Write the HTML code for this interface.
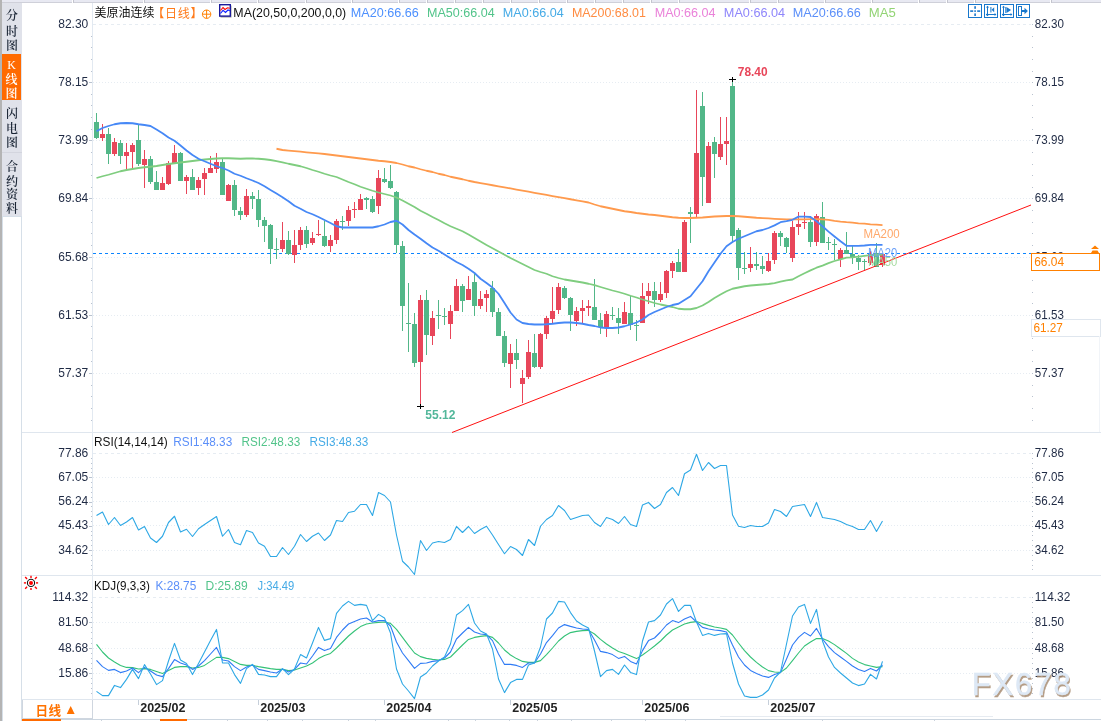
<!DOCTYPE html>
<html lang="zh-CN">
<head>
<meta charset="utf-8">
<title>美原油连续 日线</title>
<style>
html,body{margin:0;padding:0;background:#fff;}
body{width:1101px;height:721px;position:relative;overflow:hidden;font-family:"Liberation Sans","Noto Sans CJK SC",sans-serif;}
#chart{position:absolute;left:0;top:0;}
#chart text{font-family:"Liberation Sans","Noto Sans CJK SC",sans-serif;}
.side{position:absolute;left:0;top:0;width:22px;height:721px;}
.side .edge{position:absolute;left:0;top:0;width:2px;height:721px;background:#b4b4b4;}
.side .rail{position:absolute;left:2px;top:216px;width:18px;height:505px;border:1px solid #d6dfe8;border-bottom:none;background:#fff;}
.tabs{position:absolute;left:2px;top:3px;width:20px;height:213px;background:#e0e2ea;}
.ch{position:absolute;left:0;width:20px;height:16px;color:#1b2636;font-family:"Liberation Serif","Noto Serif CJK SC","Noto Sans CJK SC",serif;font-size:12px;font-weight:600;line-height:16px;text-align:center;}
.ch.w{color:#fff;width:19px;}
.on{position:absolute;left:0;top:51px;width:19px;height:46px;background:#ff6a00;}
.sep{position:absolute;left:0;width:20px;height:1px;background:#d3d5de;}
.hd{position:absolute;top:4px;height:17px;line-height:17px;font-size:12.5px;white-space:nowrap;}
.period{position:absolute;left:22px;top:700px;width:69px;height:18px;border:1px solid #cfd6df;border-top:none;background:#fff;color:#ff7200;font-weight:bold;}
.period b{position:absolute;left:12.6px;top:3px;font-size:12.6px;line-height:17px;font-weight:bold;letter-spacing:0.3px;}
.period i{position:absolute;left:41px;top:1px;font-size:13.5px;line-height:17px;font-style:normal;font-weight:normal;}
</style>
</head>
<body>
<svg id="chart" width="1101" height="721" viewBox="0 0 1101 721">
<g shape-rendering="crispEdges">
<rect x="22" y="432" width="1079" height="1" fill="#dfe6ee"/>
<rect x="22" y="575" width="1079" height="1" fill="#dfe6ee"/>
<rect x="22" y="699" width="1079" height="1" fill="#dfe6ee"/>
<rect x="92" y="3" width="1" height="696" fill="#e2e9f1"/>
<rect x="22" y="719" width="1079" height="1" fill="#ccd6e0"/>
</g>
<g stroke="#e6ecf2" stroke-width="1" fill="none">
<line x1="93" y1="24.5" x2="1031" y2="24.5" stroke-dasharray="3 3"/>
<line x1="93" y1="82.5" x2="1031" y2="82.5" stroke-dasharray="1 2"/>
<line x1="93" y1="140.5" x2="1031" y2="140.5" stroke-dasharray="1 2"/>
<line x1="93" y1="198.5" x2="1031" y2="198.5" stroke-dasharray="1 2"/>
<line x1="93" y1="257.5" x2="1031" y2="257.5" stroke-dasharray="1 2"/>
<line x1="93" y1="315.5" x2="1031" y2="315.5" stroke-dasharray="1 2"/>
<line x1="93" y1="373.5" x2="1031" y2="373.5" stroke-dasharray="1 2"/>
<line x1="93" y1="453.5" x2="1031" y2="453.5" stroke-dasharray="3 3"/>
<line x1="93" y1="477.5" x2="1031" y2="477.5" stroke-dasharray="1 2"/>
<line x1="93" y1="501.5" x2="1031" y2="501.5" stroke-dasharray="1 2"/>
<line x1="93" y1="525.5" x2="1031" y2="525.5" stroke-dasharray="1 2"/>
<line x1="93" y1="550.5" x2="1031" y2="550.5" stroke-dasharray="1 2"/>
<line x1="93" y1="597.5" x2="1031" y2="597.5" stroke-dasharray="3 3"/>
<line x1="93" y1="622.5" x2="1031" y2="622.5" stroke-dasharray="1 2"/>
<line x1="93" y1="648.5" x2="1031" y2="648.5" stroke-dasharray="1 2"/>
<line x1="93" y1="673.5" x2="1031" y2="673.5" stroke-dasharray="1 2"/>
</g>
<g fill="#b9c2cf" shape-rendering="crispEdges">
<rect x="1032" y="24" width="1" height="1"/>
<rect x="91" y="36" width="1" height="1"/>
<rect x="1032" y="36" width="1" height="1"/>
<rect x="91" y="47" width="1" height="1"/>
<rect x="1032" y="47" width="1" height="1"/>
<rect x="91" y="59" width="1" height="1"/>
<rect x="1032" y="59" width="1" height="1"/>
<rect x="91" y="71" width="1" height="1"/>
<rect x="1032" y="71" width="1" height="1"/>
<rect x="89" y="82" width="3" height="1"/>
<rect x="1032" y="82" width="1" height="1"/>
<rect x="91" y="94" width="1" height="1"/>
<rect x="1032" y="94" width="1" height="1"/>
<rect x="91" y="105" width="1" height="1"/>
<rect x="1032" y="105" width="1" height="1"/>
<rect x="91" y="117" width="1" height="1"/>
<rect x="1032" y="117" width="1" height="1"/>
<rect x="91" y="129" width="1" height="1"/>
<rect x="1032" y="129" width="1" height="1"/>
<rect x="89" y="140" width="3" height="1"/>
<rect x="1032" y="140" width="1" height="1"/>
<rect x="91" y="152" width="1" height="1"/>
<rect x="1032" y="152" width="1" height="1"/>
<rect x="91" y="164" width="1" height="1"/>
<rect x="1032" y="164" width="1" height="1"/>
<rect x="91" y="175" width="1" height="1"/>
<rect x="1032" y="175" width="1" height="1"/>
<rect x="91" y="187" width="1" height="1"/>
<rect x="1032" y="187" width="1" height="1"/>
<rect x="89" y="198" width="3" height="1"/>
<rect x="1032" y="198" width="1" height="1"/>
<rect x="91" y="210" width="1" height="1"/>
<rect x="1032" y="210" width="1" height="1"/>
<rect x="91" y="222" width="1" height="1"/>
<rect x="1032" y="222" width="1" height="1"/>
<rect x="91" y="233" width="1" height="1"/>
<rect x="1032" y="233" width="1" height="1"/>
<rect x="91" y="245" width="1" height="1"/>
<rect x="1032" y="245" width="1" height="1"/>
<rect x="89" y="257" width="3" height="1"/>
<rect x="1032" y="257" width="1" height="1"/>
<rect x="91" y="268" width="1" height="1"/>
<rect x="1032" y="268" width="1" height="1"/>
<rect x="91" y="280" width="1" height="1"/>
<rect x="1032" y="280" width="1" height="1"/>
<rect x="91" y="292" width="1" height="1"/>
<rect x="1032" y="292" width="1" height="1"/>
<rect x="91" y="303" width="1" height="1"/>
<rect x="1032" y="303" width="1" height="1"/>
<rect x="89" y="315" width="3" height="1"/>
<rect x="1032" y="315" width="1" height="1"/>
<rect x="91" y="326" width="1" height="1"/>
<rect x="1032" y="326" width="1" height="1"/>
<rect x="91" y="338" width="1" height="1"/>
<rect x="1032" y="338" width="1" height="1"/>
<rect x="91" y="350" width="1" height="1"/>
<rect x="1032" y="350" width="1" height="1"/>
<rect x="91" y="361" width="1" height="1"/>
<rect x="1032" y="361" width="1" height="1"/>
<rect x="89" y="373" width="3" height="1"/>
<rect x="1032" y="373" width="1" height="1"/>
<rect x="91" y="385" width="1" height="1"/>
<rect x="1032" y="385" width="1" height="1"/>
<rect x="91" y="396" width="1" height="1"/>
<rect x="1032" y="396" width="1" height="1"/>
<rect x="91" y="408" width="1" height="1"/>
<rect x="1032" y="408" width="1" height="1"/>
<rect x="91" y="420" width="1" height="1"/>
<rect x="1032" y="420" width="1" height="1"/>
<rect x="1032" y="453" width="1" height="1"/>
<rect x="91" y="458" width="1" height="1"/>
<rect x="1032" y="458" width="1" height="1"/>
<rect x="91" y="463" width="1" height="1"/>
<rect x="1032" y="463" width="1" height="1"/>
<rect x="91" y="468" width="1" height="1"/>
<rect x="1032" y="468" width="1" height="1"/>
<rect x="91" y="472" width="1" height="1"/>
<rect x="1032" y="472" width="1" height="1"/>
<rect x="89" y="477" width="3" height="1"/>
<rect x="1032" y="477" width="1" height="1"/>
<rect x="91" y="482" width="1" height="1"/>
<rect x="1032" y="482" width="1" height="1"/>
<rect x="91" y="487" width="1" height="1"/>
<rect x="1032" y="487" width="1" height="1"/>
<rect x="91" y="492" width="1" height="1"/>
<rect x="1032" y="492" width="1" height="1"/>
<rect x="91" y="497" width="1" height="1"/>
<rect x="1032" y="497" width="1" height="1"/>
<rect x="89" y="502" width="3" height="1"/>
<rect x="1032" y="502" width="1" height="1"/>
<rect x="91" y="506" width="1" height="1"/>
<rect x="1032" y="506" width="1" height="1"/>
<rect x="91" y="511" width="1" height="1"/>
<rect x="1032" y="511" width="1" height="1"/>
<rect x="91" y="516" width="1" height="1"/>
<rect x="1032" y="516" width="1" height="1"/>
<rect x="91" y="521" width="1" height="1"/>
<rect x="1032" y="521" width="1" height="1"/>
<rect x="89" y="526" width="3" height="1"/>
<rect x="1032" y="526" width="1" height="1"/>
<rect x="91" y="531" width="1" height="1"/>
<rect x="1032" y="531" width="1" height="1"/>
<rect x="91" y="535" width="1" height="1"/>
<rect x="1032" y="535" width="1" height="1"/>
<rect x="91" y="540" width="1" height="1"/>
<rect x="1032" y="540" width="1" height="1"/>
<rect x="91" y="545" width="1" height="1"/>
<rect x="1032" y="545" width="1" height="1"/>
<rect x="89" y="550" width="3" height="1"/>
<rect x="1032" y="550" width="1" height="1"/>
<rect x="91" y="555" width="1" height="1"/>
<rect x="1032" y="555" width="1" height="1"/>
<rect x="91" y="560" width="1" height="1"/>
<rect x="1032" y="560" width="1" height="1"/>
<rect x="91" y="565" width="1" height="1"/>
<rect x="1032" y="565" width="1" height="1"/>
<rect x="91" y="569" width="1" height="1"/>
<rect x="1032" y="569" width="1" height="1"/>
<rect x="1032" y="597" width="1" height="1"/>
<rect x="91" y="602" width="1" height="1"/>
<rect x="1032" y="602" width="1" height="1"/>
<rect x="91" y="607" width="1" height="1"/>
<rect x="1032" y="607" width="1" height="1"/>
<rect x="91" y="612" width="1" height="1"/>
<rect x="1032" y="612" width="1" height="1"/>
<rect x="91" y="617" width="1" height="1"/>
<rect x="1032" y="617" width="1" height="1"/>
<rect x="89" y="622" width="3" height="1"/>
<rect x="1032" y="622" width="1" height="1"/>
<rect x="91" y="627" width="1" height="1"/>
<rect x="1032" y="627" width="1" height="1"/>
<rect x="91" y="632" width="1" height="1"/>
<rect x="1032" y="632" width="1" height="1"/>
<rect x="91" y="638" width="1" height="1"/>
<rect x="1032" y="638" width="1" height="1"/>
<rect x="91" y="643" width="1" height="1"/>
<rect x="1032" y="643" width="1" height="1"/>
<rect x="89" y="648" width="3" height="1"/>
<rect x="1032" y="648" width="1" height="1"/>
<rect x="91" y="653" width="1" height="1"/>
<rect x="1032" y="653" width="1" height="1"/>
<rect x="91" y="658" width="1" height="1"/>
<rect x="1032" y="658" width="1" height="1"/>
<rect x="91" y="663" width="1" height="1"/>
<rect x="1032" y="663" width="1" height="1"/>
<rect x="91" y="668" width="1" height="1"/>
<rect x="1032" y="668" width="1" height="1"/>
<rect x="89" y="673" width="3" height="1"/>
<rect x="1032" y="673" width="1" height="1"/>
<rect x="91" y="678" width="1" height="1"/>
<rect x="1032" y="678" width="1" height="1"/>
<rect x="91" y="683" width="1" height="1"/>
<rect x="1032" y="683" width="1" height="1"/>
<rect x="91" y="688" width="1" height="1"/>
<rect x="1032" y="688" width="1" height="1"/>
<rect x="91" y="693" width="1" height="1"/>
<rect x="1032" y="693" width="1" height="1"/>
</g>
<line x1="93" y1="253.5" x2="1031" y2="253.5" stroke="#0a84ff" stroke-width="1" stroke-dasharray="3 3" shape-rendering="crispEdges"/>
<g shape-rendering="crispEdges">
<rect x="96" y="113" width="1" height="26" fill="#52b788"/>
<rect x="94" y="122" width="5" height="16" fill="#52b788"/>
<rect x="102" y="124" width="1" height="17" fill="#e8465a"/>
<rect x="100" y="134" width="5" height="4" fill="#e8465a"/>
<rect x="108" y="128" width="1" height="36" fill="#52b788"/>
<rect x="106" y="134" width="5" height="20" fill="#52b788"/>
<rect x="114" y="138" width="1" height="18" fill="#e8465a"/>
<rect x="112" y="142" width="5" height="12" fill="#e8465a"/>
<rect x="120" y="140" width="1" height="24" fill="#52b788"/>
<rect x="118" y="143" width="5" height="13" fill="#52b788"/>
<rect x="126" y="143" width="1" height="26" fill="#e8465a"/>
<rect x="124" y="152" width="5" height="4" fill="#e8465a"/>
<rect x="132" y="143" width="1" height="25" fill="#e8465a"/>
<rect x="130" y="145" width="5" height="7" fill="#e8465a"/>
<rect x="138" y="125" width="1" height="41" fill="#52b788"/>
<rect x="136" y="140" width="5" height="24" fill="#52b788"/>
<rect x="144" y="150" width="1" height="38" fill="#e8465a"/>
<rect x="142" y="159" width="5" height="6" fill="#e8465a"/>
<rect x="150" y="156" width="1" height="28" fill="#52b788"/>
<rect x="148" y="159" width="5" height="23" fill="#52b788"/>
<rect x="156" y="171" width="1" height="19" fill="#52b788"/>
<rect x="154" y="182" width="5" height="8" fill="#52b788"/>
<rect x="162" y="177" width="1" height="13" fill="#e8465a"/>
<rect x="160" y="183" width="5" height="7" fill="#e8465a"/>
<rect x="168" y="161" width="1" height="24" fill="#e8465a"/>
<rect x="166" y="163" width="5" height="21" fill="#e8465a"/>
<rect x="174" y="145" width="1" height="18" fill="#e8465a"/>
<rect x="172" y="153" width="5" height="10" fill="#e8465a"/>
<rect x="180" y="152" width="1" height="29" fill="#52b788"/>
<rect x="178" y="153" width="5" height="28" fill="#52b788"/>
<rect x="186" y="175" width="1" height="19" fill="#e8465a"/>
<rect x="184" y="177" width="5" height="4" fill="#e8465a"/>
<rect x="192" y="169" width="1" height="21" fill="#52b788"/>
<rect x="190" y="177" width="5" height="13" fill="#52b788"/>
<rect x="198" y="177" width="1" height="18" fill="#e8465a"/>
<rect x="196" y="180" width="5" height="8" fill="#e8465a"/>
<rect x="204" y="168" width="1" height="27" fill="#e8465a"/>
<rect x="202" y="173" width="5" height="6" fill="#e8465a"/>
<rect x="210" y="156" width="1" height="17" fill="#e8465a"/>
<rect x="208" y="168" width="5" height="5" fill="#e8465a"/>
<rect x="216" y="153" width="1" height="20" fill="#e8465a"/>
<rect x="214" y="162" width="5" height="7" fill="#e8465a"/>
<rect x="222" y="159" width="1" height="36" fill="#52b788"/>
<rect x="220" y="162" width="5" height="33" fill="#52b788"/>
<rect x="228" y="184" width="1" height="17" fill="#e8465a"/>
<rect x="226" y="185" width="5" height="16" fill="#e8465a"/>
<rect x="234" y="180" width="1" height="36" fill="#52b788"/>
<rect x="232" y="185" width="5" height="25" fill="#52b788"/>
<rect x="240" y="207" width="1" height="13" fill="#52b788"/>
<rect x="238" y="211" width="5" height="4" fill="#52b788"/>
<rect x="246" y="189" width="1" height="28" fill="#e8465a"/>
<rect x="244" y="196" width="5" height="19" fill="#e8465a"/>
<rect x="252" y="192" width="1" height="17" fill="#52b788"/>
<rect x="250" y="196" width="5" height="3" fill="#52b788"/>
<rect x="258" y="190" width="1" height="37" fill="#52b788"/>
<rect x="256" y="199" width="5" height="21" fill="#52b788"/>
<rect x="264" y="217" width="1" height="25" fill="#52b788"/>
<rect x="262" y="220" width="5" height="6" fill="#52b788"/>
<rect x="270" y="224" width="1" height="40" fill="#52b788"/>
<rect x="268" y="225" width="5" height="24" fill="#52b788"/>
<rect x="276" y="238" width="1" height="21" fill="#52b788"/>
<rect x="274" y="249" width="5" height="1" fill="#52b788"/>
<rect x="282" y="222" width="1" height="30" fill="#e8465a"/>
<rect x="280" y="240" width="5" height="9" fill="#e8465a"/>
<rect x="288" y="231" width="1" height="24" fill="#52b788"/>
<rect x="286" y="240" width="5" height="14" fill="#52b788"/>
<rect x="294" y="230" width="1" height="33" fill="#e8465a"/>
<rect x="292" y="245" width="5" height="10" fill="#e8465a"/>
<rect x="300" y="227" width="1" height="23" fill="#e8465a"/>
<rect x="298" y="230" width="5" height="15" fill="#e8465a"/>
<rect x="306" y="226" width="1" height="22" fill="#52b788"/>
<rect x="304" y="230" width="5" height="14" fill="#52b788"/>
<rect x="312" y="232" width="1" height="13" fill="#e8465a"/>
<rect x="310" y="238" width="5" height="5" fill="#e8465a"/>
<rect x="318" y="220" width="1" height="16" fill="#e8465a"/>
<rect x="316" y="234" width="5" height="1" fill="#e8465a"/>
<rect x="324" y="221" width="1" height="26" fill="#52b788"/>
<rect x="322" y="236" width="5" height="10" fill="#52b788"/>
<rect x="330" y="235" width="1" height="17" fill="#e8465a"/>
<rect x="328" y="240" width="5" height="6" fill="#e8465a"/>
<rect x="336" y="219" width="1" height="25" fill="#e8465a"/>
<rect x="334" y="221" width="5" height="19" fill="#e8465a"/>
<rect x="342" y="216" width="1" height="14" fill="#52b788"/>
<rect x="340" y="221" width="5" height="1" fill="#52b788"/>
<rect x="348" y="206" width="1" height="20" fill="#e8465a"/>
<rect x="346" y="210" width="5" height="11" fill="#e8465a"/>
<rect x="354" y="202" width="1" height="16" fill="#e8465a"/>
<rect x="352" y="209" width="5" height="1" fill="#e8465a"/>
<rect x="360" y="194" width="1" height="16" fill="#e8465a"/>
<rect x="358" y="199" width="5" height="11" fill="#e8465a"/>
<rect x="366" y="197" width="1" height="12" fill="#52b788"/>
<rect x="364" y="198" width="5" height="2" fill="#52b788"/>
<rect x="372" y="196" width="1" height="17" fill="#52b788"/>
<rect x="370" y="199" width="5" height="13" fill="#52b788"/>
<rect x="378" y="170" width="1" height="44" fill="#e8465a"/>
<rect x="376" y="178" width="5" height="28" fill="#e8465a"/>
<rect x="384" y="168" width="1" height="15" fill="#52b788"/>
<rect x="382" y="179" width="5" height="3" fill="#52b788"/>
<rect x="390" y="165" width="1" height="24" fill="#52b788"/>
<rect x="388" y="181" width="5" height="7" fill="#52b788"/>
<rect x="396" y="191" width="1" height="62" fill="#52b788"/>
<rect x="394" y="192" width="5" height="53" fill="#52b788"/>
<rect x="402" y="241" width="1" height="90" fill="#52b788"/>
<rect x="400" y="246" width="5" height="60" fill="#52b788"/>
<rect x="408" y="283" width="1" height="69" fill="#52b788"/>
<rect x="406" y="323" width="5" height="1" fill="#52b788"/>
<rect x="414" y="313" width="1" height="54" fill="#52b788"/>
<rect x="412" y="324" width="5" height="39" fill="#52b788"/>
<rect x="420" y="295" width="1" height="111" fill="#e8465a"/>
<rect x="418" y="300" width="5" height="62" fill="#e8465a"/>
<rect x="426" y="290" width="1" height="65" fill="#52b788"/>
<rect x="424" y="300" width="5" height="35" fill="#52b788"/>
<rect x="432" y="311" width="1" height="34" fill="#e8465a"/>
<rect x="430" y="318" width="5" height="18" fill="#e8465a"/>
<rect x="438" y="300" width="1" height="29" fill="#52b788"/>
<rect x="436" y="315" width="5" height="1" fill="#52b788"/>
<rect x="444" y="308" width="1" height="17" fill="#52b788"/>
<rect x="442" y="316" width="5" height="1" fill="#52b788"/>
<rect x="450" y="305" width="1" height="34" fill="#e8465a"/>
<rect x="448" y="311" width="5" height="13" fill="#e8465a"/>
<rect x="456" y="279" width="1" height="32" fill="#e8465a"/>
<rect x="454" y="286" width="5" height="25" fill="#e8465a"/>
<rect x="462" y="284" width="1" height="28" fill="#52b788"/>
<rect x="460" y="286" width="5" height="15" fill="#52b788"/>
<rect x="468" y="276" width="1" height="24" fill="#e8465a"/>
<rect x="466" y="289" width="5" height="11" fill="#e8465a"/>
<rect x="474" y="274" width="1" height="42" fill="#52b788"/>
<rect x="472" y="282" width="5" height="24" fill="#52b788"/>
<rect x="480" y="291" width="1" height="18" fill="#e8465a"/>
<rect x="478" y="299" width="5" height="7" fill="#e8465a"/>
<rect x="486" y="290" width="1" height="22" fill="#e8465a"/>
<rect x="484" y="294" width="5" height="4" fill="#e8465a"/>
<rect x="492" y="281" width="1" height="36" fill="#52b788"/>
<rect x="490" y="288" width="5" height="24" fill="#52b788"/>
<rect x="498" y="308" width="1" height="28" fill="#52b788"/>
<rect x="496" y="312" width="5" height="24" fill="#52b788"/>
<rect x="504" y="331" width="1" height="36" fill="#52b788"/>
<rect x="502" y="336" width="5" height="27" fill="#52b788"/>
<rect x="510" y="344" width="1" height="44" fill="#e8465a"/>
<rect x="508" y="353" width="5" height="11" fill="#e8465a"/>
<rect x="516" y="339" width="1" height="30" fill="#52b788"/>
<rect x="514" y="353" width="5" height="7" fill="#52b788"/>
<rect x="522" y="370" width="1" height="33" fill="#e8465a"/>
<rect x="520" y="378" width="5" height="6" fill="#e8465a"/>
<rect x="528" y="340" width="1" height="39" fill="#e8465a"/>
<rect x="526" y="352" width="5" height="25" fill="#e8465a"/>
<rect x="534" y="334" width="1" height="34" fill="#52b788"/>
<rect x="532" y="353" width="5" height="14" fill="#52b788"/>
<rect x="540" y="333" width="1" height="36" fill="#e8465a"/>
<rect x="538" y="334" width="5" height="33" fill="#e8465a"/>
<rect x="546" y="316" width="1" height="23" fill="#e8465a"/>
<rect x="544" y="318" width="5" height="16" fill="#e8465a"/>
<rect x="552" y="287" width="1" height="37" fill="#e8465a"/>
<rect x="550" y="311" width="5" height="8" fill="#e8465a"/>
<rect x="558" y="283" width="1" height="31" fill="#e8465a"/>
<rect x="556" y="287" width="5" height="23" fill="#e8465a"/>
<rect x="564" y="286" width="1" height="13" fill="#52b788"/>
<rect x="562" y="288" width="5" height="10" fill="#52b788"/>
<rect x="570" y="297" width="1" height="34" fill="#52b788"/>
<rect x="568" y="298" width="5" height="17" fill="#52b788"/>
<rect x="576" y="307" width="1" height="19" fill="#e8465a"/>
<rect x="574" y="311" width="5" height="10" fill="#e8465a"/>
<rect x="582" y="300" width="1" height="23" fill="#e8465a"/>
<rect x="580" y="308" width="5" height="3" fill="#e8465a"/>
<rect x="588" y="300" width="1" height="16" fill="#e8465a"/>
<rect x="586" y="306" width="5" height="2" fill="#e8465a"/>
<rect x="594" y="279" width="1" height="41" fill="#52b788"/>
<rect x="592" y="307" width="5" height="13" fill="#52b788"/>
<rect x="600" y="313" width="1" height="21" fill="#52b788"/>
<rect x="598" y="320" width="5" height="7" fill="#52b788"/>
<rect x="606" y="311" width="1" height="26" fill="#e8465a"/>
<rect x="604" y="314" width="5" height="13" fill="#e8465a"/>
<rect x="612" y="307" width="1" height="13" fill="#52b788"/>
<rect x="610" y="315" width="5" height="1" fill="#52b788"/>
<rect x="618" y="308" width="1" height="26" fill="#52b788"/>
<rect x="616" y="318" width="5" height="5" fill="#52b788"/>
<rect x="624" y="302" width="1" height="22" fill="#e8465a"/>
<rect x="622" y="312" width="5" height="12" fill="#e8465a"/>
<rect x="630" y="296" width="1" height="34" fill="#52b788"/>
<rect x="628" y="313" width="5" height="12" fill="#52b788"/>
<rect x="636" y="320" width="1" height="21" fill="#52b788"/>
<rect x="634" y="325" width="5" height="1" fill="#52b788"/>
<rect x="642" y="283" width="1" height="40" fill="#e8465a"/>
<rect x="640" y="296" width="5" height="27" fill="#e8465a"/>
<rect x="648" y="283" width="1" height="21" fill="#e8465a"/>
<rect x="646" y="291" width="5" height="5" fill="#e8465a"/>
<rect x="654" y="282" width="1" height="25" fill="#52b788"/>
<rect x="652" y="291" width="5" height="9" fill="#52b788"/>
<rect x="660" y="282" width="1" height="20" fill="#e8465a"/>
<rect x="658" y="294" width="5" height="6" fill="#e8465a"/>
<rect x="666" y="270" width="1" height="28" fill="#e8465a"/>
<rect x="664" y="271" width="5" height="22" fill="#e8465a"/>
<rect x="672" y="261" width="1" height="17" fill="#e8465a"/>
<rect x="670" y="263" width="5" height="8" fill="#e8465a"/>
<rect x="678" y="249" width="1" height="23" fill="#52b788"/>
<rect x="676" y="262" width="5" height="10" fill="#52b788"/>
<rect x="684" y="220" width="1" height="52" fill="#e8465a"/>
<rect x="682" y="222" width="5" height="50" fill="#e8465a"/>
<rect x="690" y="207" width="1" height="36" fill="#52b788"/>
<rect x="688" y="212" width="5" height="2" fill="#52b788"/>
<rect x="696" y="90" width="1" height="127" fill="#e8465a"/>
<rect x="694" y="153" width="5" height="61" fill="#e8465a"/>
<rect x="702" y="92" width="1" height="114" fill="#52b788"/>
<rect x="700" y="106" width="5" height="71" fill="#52b788"/>
<rect x="708" y="142" width="1" height="61" fill="#e8465a"/>
<rect x="706" y="146" width="5" height="57" fill="#e8465a"/>
<rect x="714" y="137" width="1" height="41" fill="#52b788"/>
<rect x="712" y="142" width="5" height="12" fill="#52b788"/>
<rect x="720" y="117" width="1" height="43" fill="#e8465a"/>
<rect x="718" y="144" width="5" height="13" fill="#e8465a"/>
<rect x="726" y="117" width="1" height="48" fill="#e8465a"/>
<rect x="724" y="141" width="5" height="3" fill="#e8465a"/>
<rect x="732" y="80" width="1" height="162" fill="#52b788"/>
<rect x="730" y="86" width="5" height="150" fill="#52b788"/>
<rect x="738" y="228" width="1" height="52" fill="#52b788"/>
<rect x="736" y="230" width="5" height="38" fill="#52b788"/>
<rect x="744" y="252" width="1" height="22" fill="#52b788"/>
<rect x="742" y="268" width="5" height="1" fill="#52b788"/>
<rect x="750" y="247" width="1" height="25" fill="#e8465a"/>
<rect x="748" y="264" width="5" height="4" fill="#e8465a"/>
<rect x="756" y="252" width="1" height="18" fill="#52b788"/>
<rect x="754" y="264" width="5" height="2" fill="#52b788"/>
<rect x="762" y="256" width="1" height="18" fill="#52b788"/>
<rect x="760" y="266" width="5" height="3" fill="#52b788"/>
<rect x="768" y="253" width="1" height="19" fill="#e8465a"/>
<rect x="766" y="261" width="5" height="10" fill="#e8465a"/>
<rect x="774" y="231" width="1" height="33" fill="#e8465a"/>
<rect x="772" y="233" width="5" height="27" fill="#e8465a"/>
<rect x="780" y="231" width="1" height="15" fill="#52b788"/>
<rect x="778" y="233" width="5" height="4" fill="#52b788"/>
<rect x="786" y="237" width="1" height="16" fill="#52b788"/>
<rect x="784" y="238" width="5" height="9" fill="#52b788"/>
<rect x="792" y="221" width="1" height="41" fill="#e8465a"/>
<rect x="790" y="227" width="5" height="31" fill="#e8465a"/>
<rect x="798" y="212" width="1" height="23" fill="#e8465a"/>
<rect x="796" y="224" width="5" height="3" fill="#e8465a"/>
<rect x="804" y="212" width="1" height="17" fill="#e8465a"/>
<rect x="802" y="222" width="5" height="1" fill="#e8465a"/>
<rect x="810" y="216" width="1" height="31" fill="#52b788"/>
<rect x="808" y="222" width="5" height="20" fill="#52b788"/>
<rect x="816" y="214" width="1" height="32" fill="#e8465a"/>
<rect x="814" y="216" width="5" height="26" fill="#e8465a"/>
<rect x="822" y="202" width="1" height="41" fill="#52b788"/>
<rect x="820" y="217" width="5" height="26" fill="#52b788"/>
<rect x="828" y="237" width="1" height="13" fill="#52b788"/>
<rect x="826" y="242" width="5" height="1" fill="#52b788"/>
<rect x="834" y="239" width="1" height="21" fill="#52b788"/>
<rect x="832" y="244" width="5" height="1" fill="#52b788"/>
<rect x="840" y="248" width="1" height="19" fill="#e8465a"/>
<rect x="838" y="250" width="5" height="9" fill="#e8465a"/>
<rect x="846" y="232" width="1" height="22" fill="#52b788"/>
<rect x="844" y="250" width="5" height="4" fill="#52b788"/>
<rect x="852" y="246" width="1" height="18" fill="#52b788"/>
<rect x="850" y="254" width="5" height="3" fill="#52b788"/>
<rect x="858" y="255" width="1" height="15" fill="#52b788"/>
<rect x="856" y="258" width="5" height="4" fill="#52b788"/>
<rect x="864" y="259" width="1" height="11" fill="#52b788"/>
<rect x="862" y="261" width="5" height="1" fill="#52b788"/>
<rect x="870" y="251" width="1" height="14" fill="#e8465a"/>
<rect x="868" y="254" width="5" height="9" fill="#e8465a"/>
<rect x="876" y="243" width="1" height="24" fill="#52b788"/>
<rect x="874" y="253" width="5" height="14" fill="#52b788"/>
<rect x="882" y="253" width="1" height="14" fill="#e8465a"/>
<rect x="880" y="254" width="5" height="11" fill="#e8465a"/>
</g>
<polyline points="276.5,148.75 282.5,150 288.5,150.57 294.5,151.14 300.5,151.71 306.5,152.29 312.5,152.86 318.5,153.43 324.5,154 330.5,154.75 336.5,155.5 342.5,156.25 348.5,157 354.5,157.75 360.5,158.5 366.5,159.25 372.5,160 378.5,160.75 384.5,161.25 390.5,162 396.5,163 402.5,164.5 408.5,166.25 414.5,167.5 420.5,169.25 426.5,170.75 432.5,172 438.5,173.75 444.5,175 450.5,176.75 456.5,178 462.5,179.25 468.5,180.75 474.5,182 480.5,183.08 486.5,184.16 492.5,185.24 498.5,186.32 504.5,187.39 510.5,188.47 516.5,189.55 522.5,190.63 528.5,191.71 534.5,192.79 540.5,193.87 546.5,194.95 552.5,196.03 558.5,197.11 564.5,198.18 570.5,199.26 576.5,200.34 582.5,201.42 588.5,202.5 594.5,204.5 600.5,206.25 606.5,207.5 612.5,208.75 618.5,210 624.5,211.25 630.5,212 636.5,213 642.5,213.75 648.5,214.5 654.5,215 660.5,215.75 666.5,216.5 672.5,217.25 678.5,217.75 684.5,218 690.5,218 696.5,217.75 702.5,217.5 708.5,217 714.5,216.5 720.5,216.25 726.5,216 732.5,216 738.5,216.25 744.5,216.75 750.5,217.25 756.5,217.75 762.5,218.1 768.5,218.4 774.5,218.8 780.5,219.1 786.5,219.3 792.5,219.4 798.5,219.4 804.5,219.3 810.5,219.1 816.5,219.1 822.5,219.4 828.5,219.8 834.5,220.8 840.5,221.6 846.5,222.2 852.5,222.6 858.5,223.3 864.5,223.7 870.5,224.3 876.5,224.7 882.5,225.1" fill="none" stroke="#ff9a4d" stroke-width="1.8" stroke-linejoin="round" />
<polyline points="96.5,178 102.5,176.25 108.5,174.75 114.5,173 120.5,171.25 126.5,170 132.5,169 138.5,168 144.5,167.25 150.5,166.75 156.5,166 162.5,165 168.5,164 174.5,163.25 180.5,162.5 186.5,161.75 192.5,161 198.5,160.25 204.5,159.5 210.5,159 216.5,158.5 222.5,158.25 228.5,158.25 234.5,158.5 240.5,158.75 246.5,158.5 252.5,158.5 258.5,158.75 264.5,159.25 270.5,160 276.5,161.1 282.5,162.3 288.5,163.75 294.5,165 300.5,166.25 306.5,168 312.5,170 318.5,171.75 324.5,173.75 330.5,175.5 336.5,177 342.5,179.5 348.5,182 354.5,184.25 360.5,186.75 366.5,188.75 372.5,190.75 378.5,192.5 384.5,194 390.5,195.5 396.5,197.5 402.5,200.5 408.5,203.75 414.5,207 420.5,210.75 426.5,213.75 432.5,217 438.5,220 444.5,223.25 450.5,226.25 456.5,228.75 462.5,231.25 468.5,234.5 474.5,238 480.5,241.5 486.5,245 492.5,248.25 498.5,251.5 504.5,254.75 510.5,258 516.5,261 522.5,264 528.5,267 534.5,270 540.5,272 546.5,273.75 552.5,276.25 558.5,278 564.5,279.5 570.5,280.5 576.5,281.5 582.5,282.5 588.5,283.75 594.5,285.2 600.5,287 606.5,288.75 612.5,290.5 618.5,292 624.5,293.75 630.5,295.75 636.5,297.5 642.5,299.5 648.5,301.25 654.5,303 660.5,304.5 666.5,305.75 672.5,307 678.5,308.75 684.5,309.25 690.5,309.25 696.5,308 702.5,305.5 708.5,302 714.5,298 720.5,294.5 726.5,291.25 732.5,288.75 738.5,287.5 744.5,286.25 750.5,285.5 756.5,285 762.5,284.5 768.5,284 774.5,283.1 780.5,281.6 786.5,280.4 792.5,279.5 798.5,276.3 804.5,273.2 810.5,270.4 816.5,267.7 822.5,265.6 828.5,263.2 834.5,261 840.5,259.3 846.5,257.7 852.5,257.3 858.5,256.6 864.5,255.9 870.5,255.2 876.5,254.9 882.5,254.5" fill="none" stroke="#7fcd7f" stroke-width="1.8" stroke-linejoin="round" />
<polyline points="96.5,131.25 102.5,128 108.5,126 114.5,124.25 120.5,123.25 126.5,123 132.5,123.25 138.5,124.25 144.5,125 150.5,126 156.5,129.5 162.5,133.25 168.5,137.5 174.5,140.75 180.5,145.5 186.5,150.5 192.5,155 198.5,158.75 204.5,161.25 210.5,163.75 216.5,166.25 222.5,168 228.5,170.5 234.5,173.75 240.5,175.75 246.5,178.25 252.5,180.5 258.5,183 264.5,186.25 270.5,190 276.5,193.5 282.5,197.2 288.5,201.25 294.5,205.75 300.5,208.75 306.5,212 312.5,214.25 318.5,217 324.5,220 330.5,223 336.5,226.25 342.5,227.5 348.5,227.5 354.5,227.5 360.5,227.5 366.5,227.5 372.5,227.5 378.5,226.25 384.5,224.5 390.5,222 396.5,220.75 402.5,224.5 408.5,230 414.5,234.5 420.5,238.75 426.5,243.25 432.5,247.5 438.5,250.75 444.5,254.5 450.5,258.25 456.5,262 462.5,265 468.5,268.75 474.5,273 480.5,278.75 486.5,283 492.5,287.5 498.5,293.75 504.5,303 510.5,312.5 516.5,319.5 522.5,323 528.5,324 534.5,324.5 540.5,324.5 546.5,324.25 552.5,323.75 558.5,323 564.5,322.5 570.5,322.5 576.5,323 582.5,323.75 588.5,325 594.5,326 600.5,327.5 606.5,328 612.5,328 618.5,327.5 624.5,326.25 630.5,324.5 636.5,322.5 642.5,319.5 648.5,315 654.5,312 660.5,309.5 666.5,307 672.5,305 678.5,303.75 684.5,300 690.5,296.25 696.5,288.75 702.5,281.25 708.5,271.25 714.5,262.5 720.5,253.75 726.5,246.25 732.5,242 738.5,238.75 744.5,236.25 750.5,233.75 756.5,231.25 762.5,230 768.5,228 774.5,225.4 780.5,222.2 786.5,221.2 792.5,219.8 798.5,216.6 804.5,216.6 810.5,217 816.5,221.2 822.5,226.3 828.5,231.6 834.5,236.5 840.5,241.3 846.5,245.8 852.5,245.9 858.5,245.9 864.5,245.5 870.5,244.8 876.5,244.8 882.5,244.8" fill="none" stroke="#4688f6" stroke-width="1.8" stroke-linejoin="round" />
<line x1="452" y1="432.5" x2="1031" y2="205" stroke="#ff1010" stroke-width="1"/>
<polyline points="96.5,515.5 102.5,512 108.5,524.5 114.5,517.5 120.5,525.5 126.5,522 132.5,517.5 138.5,530 144.5,526.5 150.5,538 156.5,542.5 162.5,536.25 168.5,522.5 174.5,516.25 180.5,532 186.5,529.25 192.5,536.5 198.5,528.75 204.5,524.5 210.5,520.5 216.5,516.5 222.5,536.25 228.5,529.5 234.5,542.5 240.5,544.75 246.5,530.5 252.5,532.5 258.5,543 264.5,546.25 270.5,556.5 276.5,556.5 282.5,547.5 288.5,554.5 294.5,546.25 300.5,534.5 306.5,541.5 312.5,536.25 318.5,533 324.5,540.5 330.5,535 336.5,520.5 342.5,521.5 348.5,512.5 354.5,511.25 360.5,504.5 366.5,504.5 372.5,515.5 378.5,492.5 384.5,495.5 390.5,502 396.5,535 402.5,561.25 408.5,567 414.5,574.5 420.5,540.5 426.5,550.5 432.5,543 438.5,541.5 444.5,542.5 450.5,539.5 456.5,526.5 462.5,532.5 468.5,526.5 474.5,533.5 480.5,529.5 486.5,526.25 492.5,535 498.5,544.5 504.5,553.75 510.5,546.5 516.5,549.5 522.5,555.5 528.5,539.5 534.5,545.5 540.5,526.25 546.5,519.5 552.5,515.5 558.5,505.5 564.5,510.5 570.5,519.5 576.5,517.5 582.5,515.5 588.5,515 594.5,522.5 600.5,526.5 606.5,517.5 612.5,519.5 618.5,523.5 624.5,516.5 630.5,524.5 636.5,526.5 642.5,505 648.5,502.5 654.5,508.5 660.5,504.5 666.5,492.5 672.5,487.5 678.5,495.5 684.5,473.75 690.5,470 696.5,454.25 702.5,470.5 708.5,462.5 714.5,468.5 720.5,465.5 726.5,465.5 732.5,515 738.5,526.25 744.5,527.5 750.5,525.5 756.5,526.5 762.5,526.5 768.5,523 774.5,509.5 780.5,511.5 786.5,516.5 792.5,506.5 798.5,505.5 804.5,504.5 810.5,516.5 816.5,502.5 822.5,517.5 828.5,518.5 834.5,519.5 840.5,521.5 846.5,524.5 852.5,526.5 858.5,529.5 864.5,529.5 870.5,520.5 876.5,531.5 882.5,521" fill="none" stroke="#2ea8e5" stroke-width="1.1" stroke-linejoin="round" />
<polyline points="96.5,644.4 102.5,652 108.5,658 114.5,662 120.5,665.4 126.5,667.4 132.5,667.6 138.5,669 144.5,668.6 150.5,669.4 156.5,671.4 162.5,673.4 168.5,670.6 174.5,667.4 180.5,666.6 186.5,666.6 192.5,668 198.5,667.4 204.5,665.4 210.5,661.4 216.5,657.4 222.5,657.4 228.5,658.6 234.5,661.4 240.5,664.4 246.5,665.4 252.5,665.4 258.5,666.6 264.5,667.6 270.5,668.6 276.5,669.4 282.5,669.4 288.5,670.6 294.5,670 300.5,668 306.5,666 312.5,663 318.5,658.6 324.5,655.4 330.5,653.4 336.5,648 342.5,642 348.5,636 354.5,631 360.5,626.6 366.5,624 372.5,623 378.5,622.4 384.5,622 390.5,623.4 396.5,629.4 402.5,637.4 408.5,645.4 414.5,653 420.5,656.6 426.5,658.4 432.5,659.4 438.5,660 444.5,659.4 450.5,657 456.5,651 462.5,645 468.5,639.4 474.5,637.4 480.5,636.4 486.5,635.6 492.5,637.4 498.5,643 504.5,650 510.5,655 516.5,658.6 522.5,661.4 528.5,662.4 534.5,662.4 540.5,660.6 546.5,654.6 552.5,648 558.5,641 564.5,636 570.5,632.6 576.5,631.4 582.5,630.6 588.5,630.4 594.5,634 600.5,639.4 606.5,644 612.5,648 618.5,651.4 624.5,653.4 630.5,656 636.5,658.6 642.5,655 648.5,650.6 654.5,646 660.5,641 666.5,635 672.5,630 678.5,627 684.5,624 690.5,622.4 696.5,621.6 702.5,623.6 708.5,625.4 714.5,627 720.5,628 726.5,629.4 732.5,635 738.5,643 744.5,650.6 750.5,657 756.5,662.4 762.5,667 768.5,670.6 774.5,672 780.5,672.4 786.5,668 792.5,660.6 798.5,653 804.5,646 810.5,642 816.5,638.6 822.5,638.6 828.5,641 834.5,644.6 840.5,649 846.5,653.4 852.5,658.4 858.5,662 864.5,664.6 870.5,666 876.5,667.4 882.5,666.6" fill="none" stroke="#35c278" stroke-width="1.1" stroke-linejoin="round" />
<polyline points="96.5,660.4 102.5,666.6 108.5,670.4 114.5,669.4 120.5,672.6 126.5,671 132.5,668 138.5,672.6 144.5,667.4 150.5,671 156.5,675 162.5,676.6 168.5,668.6 174.5,659.6 180.5,663 186.5,665 192.5,669.4 198.5,666 204.5,660.6 210.5,654 216.5,647.4 222.5,660 228.5,661 234.5,666.6 240.5,670.6 246.5,667 252.5,665 258.5,669.4 264.5,670.6 270.5,672 276.5,673 282.5,669 288.5,672 294.5,669.4 300.5,663 306.5,664 312.5,656 318.5,647.4 324.5,650.6 330.5,648.6 336.5,637.4 342.5,630 348.5,624 354.5,621.4 360.5,619 366.5,618 372.5,622 378.5,620.6 384.5,620.6 390.5,626 396.5,642 402.5,653 408.5,660.6 414.5,668.4 420.5,663.4 426.5,663 432.5,661.4 438.5,660.6 444.5,658 450.5,652 456.5,639 462.5,633 468.5,627.4 474.5,632 480.5,634 486.5,634.6 492.5,640.6 498.5,654 504.5,664.4 510.5,664.4 516.5,665.4 522.5,667.4 528.5,663 534.5,663 540.5,654 546.5,642.6 552.5,635.6 558.5,628 564.5,624.6 570.5,626.4 576.5,628 582.5,629 588.5,629.4 594.5,640 600.5,651.4 606.5,652.6 612.5,654.6 618.5,658.4 624.5,656.4 630.5,661.4 636.5,664 642.5,650.6 648.5,640.6 654.5,638 660.5,632 666.5,625 672.5,620.6 678.5,622.6 684.5,619 690.5,616.4 696.5,622 702.5,627.4 708.5,629 714.5,630 720.5,630.6 726.5,632 732.5,645 738.5,657 744.5,665 750.5,670.4 756.5,673.4 762.5,676 768.5,677.4 774.5,674.6 780.5,672.6 786.5,659 792.5,645 798.5,637.4 804.5,632.4 810.5,636 816.5,628.4 822.5,639 828.5,646.6 834.5,652.6 840.5,657 846.5,661.4 852.5,666 858.5,669.4 864.5,671.4 870.5,668.4 876.5,671 882.5,665" fill="none" stroke="#2f7bf5" stroke-width="1.1" stroke-linejoin="round" />
<polyline points="96.5,691.4 102.5,695.6 108.5,695.6 114.5,685.4 120.5,687.6 126.5,679.4 132.5,669.4 138.5,678.6 144.5,664.6 150.5,674 156.5,684.6 162.5,680.6 168.5,661 174.5,643.4 180.5,660 186.5,663.4 192.5,674.6 198.5,663.4 204.5,652 210.5,640.6 216.5,629.4 222.5,663 228.5,663 234.5,674.6 240.5,683.4 246.5,668.6 252.5,664.4 258.5,674.4 264.5,675 270.5,676.6 276.5,676.6 282.5,668.6 288.5,674.6 294.5,669 300.5,654.6 306.5,658 312.5,643 318.5,627.4 324.5,640.4 330.5,638.6 336.5,613.4 342.5,606 348.5,601.4 354.5,605.4 360.5,604.4 366.5,605.4 372.5,620.6 378.5,614.4 384.5,618 390.5,633 396.5,669 402.5,684 408.5,691 414.5,698.6 420.5,677 426.5,673 432.5,666 438.5,661 444.5,657 450.5,644 456.5,615 462.5,610.6 468.5,604.4 474.5,623 480.5,631 486.5,634 492.5,649 498.5,679 504.5,692.6 510.5,682.6 516.5,679.4 522.5,679.4 528.5,665 534.5,663 540.5,647 546.5,619 552.5,613 558.5,601.4 564.5,602 570.5,612.6 576.5,621 582.5,625 588.5,628 594.5,651 600.5,676.6 606.5,670.6 612.5,669.4 618.5,674.4 624.5,665 630.5,672.4 636.5,674.6 642.5,641 648.5,622 654.5,620.6 660.5,615 666.5,604 672.5,598.6 678.5,611.4 684.5,605.4 690.5,605.4 696.5,622 702.5,635.4 708.5,633.4 714.5,635.4 720.5,634 726.5,633.6 732.5,663 738.5,684 744.5,696 750.5,697.4 756.5,697.4 762.5,695 768.5,690 774.5,678 780.5,672 786.5,644 792.5,616 798.5,607 804.5,604.4 810.5,623.4 816.5,609.4 822.5,641 828.5,657 834.5,667.4 840.5,673 846.5,678 852.5,683 858.5,685.6 864.5,684 870.5,674.4 876.5,679 882.5,661.4" fill="none" stroke="#2ea8e5" stroke-width="1.1" stroke-linejoin="round" />
<g stroke="#000" stroke-width="1" shape-rendering="crispEdges">
<line x1="729" y1="79.5" x2="736" y2="79.5"/><line x1="732.5" y1="77" x2="732.5" y2="82"/>
<line x1="417" y1="406.5" x2="424" y2="406.5"/><line x1="420.5" y1="404" x2="420.5" y2="409"/>
</g>
<g fill="#c6cfda" shape-rendering="crispEdges">
<rect x="138" y="700" width="1" height="5"/>
<rect x="258" y="700" width="1" height="5"/>
<rect x="384" y="700" width="1" height="5"/>
<rect x="510" y="700" width="1" height="5"/>
<rect x="642" y="700" width="1" height="5"/>
<rect x="768" y="700" width="1" height="5"/>
</g>
<text transform="translate(58.2,28.3) scale(1.0015,1)" font-size="12" fill="#1f2a44" font-weight="normal" >82.30</text>
<text transform="translate(1034.8,28.3) scale(0.9685,1)" font-size="12" fill="#1f2a44" font-weight="normal" >82.30</text>
<text transform="translate(58.2,86.3) scale(1.0015,1)" font-size="12" fill="#1f2a44" font-weight="normal" >78.15</text>
<text transform="translate(1034.8,86.3) scale(0.9685,1)" font-size="12" fill="#1f2a44" font-weight="normal" >78.15</text>
<text transform="translate(58.2,144.3) scale(1.0015,1)" font-size="12" fill="#1f2a44" font-weight="normal" >73.99</text>
<text transform="translate(1034.8,144.3) scale(0.9685,1)" font-size="12" fill="#1f2a44" font-weight="normal" >73.99</text>
<text transform="translate(58.2,202.3) scale(1.0015,1)" font-size="12" fill="#1f2a44" font-weight="normal" >69.84</text>
<text transform="translate(1034.8,202.3) scale(0.9685,1)" font-size="12" fill="#1f2a44" font-weight="normal" >69.84</text>
<text transform="translate(58.2,261.3) scale(1.0015,1)" font-size="12" fill="#1f2a44" font-weight="normal" >65.68</text>
<text transform="translate(1034.8,261.3) scale(0.9685,1)" font-size="12" fill="#1f2a44" font-weight="normal" >65.68</text>
<text transform="translate(58.2,319.3) scale(1.0015,1)" font-size="12" fill="#1f2a44" font-weight="normal" >61.53</text>
<text transform="translate(1034.8,319.3) scale(0.9685,1)" font-size="12" fill="#1f2a44" font-weight="normal" >61.53</text>
<text transform="translate(58.2,377.3) scale(1.0015,1)" font-size="12" fill="#1f2a44" font-weight="normal" >57.37</text>
<text transform="translate(1034.8,377.3) scale(0.9685,1)" font-size="12" fill="#1f2a44" font-weight="normal" >57.37</text>
<text transform="translate(58.2,456.9) scale(1.0015,1)" font-size="12" fill="#1f2a44" font-weight="normal" >77.86</text>
<text transform="translate(1034.8,456.9) scale(0.9685,1)" font-size="12" fill="#1f2a44" font-weight="normal" >77.86</text>
<text transform="translate(58.2,480.9) scale(1.0015,1)" font-size="12" fill="#1f2a44" font-weight="normal" >67.05</text>
<text transform="translate(1034.8,480.9) scale(0.9685,1)" font-size="12" fill="#1f2a44" font-weight="normal" >67.05</text>
<text transform="translate(58.2,504.9) scale(1.0015,1)" font-size="12" fill="#1f2a44" font-weight="normal" >56.24</text>
<text transform="translate(1034.8,504.9) scale(0.9685,1)" font-size="12" fill="#1f2a44" font-weight="normal" >56.24</text>
<text transform="translate(58.2,528.9) scale(1.0015,1)" font-size="12" fill="#1f2a44" font-weight="normal" >45.43</text>
<text transform="translate(1034.8,528.9) scale(0.9685,1)" font-size="12" fill="#1f2a44" font-weight="normal" >45.43</text>
<text transform="translate(58.2,553.9) scale(1.0015,1)" font-size="12" fill="#1f2a44" font-weight="normal" >34.62</text>
<text transform="translate(1034.8,553.9) scale(0.9685,1)" font-size="12" fill="#1f2a44" font-weight="normal" >34.62</text>
<text transform="translate(52.2,600.9) scale(1.0072,1)" font-size="12" fill="#1f2a44" font-weight="normal" >114.32</text>
<text transform="translate(1034.8,600.9) scale(0.9906,1)" font-size="12" fill="#1f2a44" font-weight="normal" >114.32</text>
<text transform="translate(58.2,625.9) scale(1.0015,1)" font-size="12" fill="#1f2a44" font-weight="normal" >81.50</text>
<text transform="translate(1034.8,625.9) scale(0.9685,1)" font-size="12" fill="#1f2a44" font-weight="normal" >81.50</text>
<text transform="translate(58.2,651.9) scale(1.0015,1)" font-size="12" fill="#1f2a44" font-weight="normal" >48.68</text>
<text transform="translate(1034.8,651.9) scale(0.9685,1)" font-size="12" fill="#1f2a44" font-weight="normal" >48.68</text>
<text transform="translate(58.2,676.9) scale(1.0015,1)" font-size="12" fill="#1f2a44" font-weight="normal" >15.86</text>
<text transform="translate(1034.8,676.9) scale(0.9685,1)" font-size="12" fill="#1f2a44" font-weight="normal" >15.86</text>
<text transform="translate(737.8,76) scale(0.9949,1)" font-size="12" fill="#e8465a" font-weight="bold" >78.40</text>
<text transform="translate(425.3,418.6) scale(1.0048,1)" font-size="12" fill="#52b79a" font-weight="bold" >55.12</text>
<text transform="translate(863.38,238) scale(0.9184,1)" font-size="12.5" fill="#ffa86a" font-weight="normal" >MA200</text>
<text transform="translate(867.9,256.6) scale(0.8990,1)" font-size="12.5" fill="#6a9ff8" font-weight="normal" >MA20</text>
<text transform="translate(867.9,265.8) scale(0.8990,1)" font-size="12.5" fill="#a6dba0" font-weight="normal" >MA50</text>
<text transform="translate(233.35,17.4) scale(0.9532,1)" font-size="13" fill="#111" font-weight="normal" >MA(20,50,0,200,0,0)</text>
<text transform="translate(350.83,17.4) scale(0.9713,1)" font-size="13" fill="#4d90fe" font-weight="normal" >MA20:66.66</text>
<text transform="translate(427.03,17.4) scale(0.9655,1)" font-size="13" fill="#52c48a" font-weight="normal" >MA50:66.04</text>
<text transform="translate(502.83,17.4) scale(0.9717,1)" font-size="13" fill="#46abe6" font-weight="normal" >MA0:66.04</text>
<text transform="translate(571.94,17.4) scale(0.9579,1)" font-size="13" fill="#ff8c42" font-weight="normal" >MA200:68.01</text>
<text transform="translate(654.63,17.4) scale(0.9717,1)" font-size="13" fill="#ea82d9" font-weight="normal" >MA0:66.04</text>
<text transform="translate(723.82,17.4) scale(0.9766,1)" font-size="13" fill="#8f86fb" font-weight="normal" >MA0:66.04</text>
<text transform="translate(792.73,17.4) scale(0.9728,1)" font-size="13" fill="#5b8ff9" font-weight="normal" >MA20:66.66</text>
<text transform="translate(868.79,17.4) scale(1.0118,1)" font-size="13" fill="#93d475" font-weight="normal" >MA5</text>
<text transform="translate(94.05,445.5) scale(0.9471,1)" font-size="12.5" fill="#111" font-weight="normal" >RSI(14,14,14)</text>
<text transform="translate(173.26,445.5) scale(0.9433,1)" font-size="12.5" fill="#5b8ff9" font-weight="normal" >RSI1:48.33</text>
<text transform="translate(241.46,445.5) scale(0.9401,1)" font-size="12.5" fill="#52c48a" font-weight="normal" >RSI2:48.33</text>
<text transform="translate(309.46,445.5) scale(0.9401,1)" font-size="12.5" fill="#46abe6" font-weight="normal" >RSI3:48.33</text>
<text transform="translate(94.06,590) scale(0.9355,1)" font-size="12.5" fill="#111" font-weight="normal" >KDJ(9,3,3)</text>
<text transform="translate(155.45,590) scale(0.9492,1)" font-size="12.5" fill="#5b8ff9" font-weight="normal" >K:28.75</text>
<text transform="translate(205.43,590) scale(0.9666,1)" font-size="12.5" fill="#52c48a" font-weight="normal" >D:25.89</text>
<text transform="translate(257.6,590) scale(0.8964,1)" font-size="12.5" fill="#46abe6" font-weight="normal" >J:34.49</text>
<text transform="translate(140.2,712.3) scale(1.0015,1)" font-size="12.5" fill="#222" font-weight="bold" >2025/02</text>
<text transform="translate(260.2,712.3) scale(1.0015,1)" font-size="12.5" fill="#222" font-weight="bold" >2025/03</text>
<text transform="translate(386.2,712.3) scale(1.0015,1)" font-size="12.5" fill="#222" font-weight="bold" >2025/04</text>
<text transform="translate(512.2,712.3) scale(1.0015,1)" font-size="12.5" fill="#222" font-weight="bold" >2025/05</text>
<text transform="translate(644.2,712.3) scale(1.0015,1)" font-size="12.5" fill="#222" font-weight="bold" >2025/06</text>
<text transform="translate(770.2,712.3) scale(1.0015,1)" font-size="12.5" fill="#222" font-weight="bold" >2025/07</text>
<g shape-rendering="crispEdges">
<rect x="1031.5" y="319.5" width="69" height="17" fill="#fff" stroke="#dfe6ee"/>
<rect x="1099" y="336" width="1" height="96" fill="#f1f4f8"/>
<rect x="1031.5" y="253.5" width="68" height="17" fill="#fff" stroke="#ff8000"/>
</g>
<path d="M1095 245.5 L1099 249 L1091 249 Z M1092.5 250.5 L1097.5 250.5 L1099 253 L1091 253 Z" fill="#ff8000"/>
<text transform="translate(1034.2,266.3) scale(0.9949,1)" font-size="12" fill="#ff8000" font-weight="normal" >66.04</text>
<text transform="translate(1033.4,332.2) scale(0.9817,1)" font-size="12" fill="#ff8000" font-weight="normal" >61.27</text>
<text x="972.9" y="696.5" font-size="31" letter-spacing="1.9" fill="#a88c72" stroke="#a88c72" stroke-width="0.4" opacity="0.85">FX678</text>
<text x="971.7" y="695.4" font-size="31" letter-spacing="1.9" fill="#dde8f5" stroke="#dde8f5" stroke-width="0.5">FX678</text>
<g stroke="#f00" stroke-width="1.4" stroke-linecap="butt">
<line x1="36" y1="582.9" x2="38.1" y2="582.9"/>
<line x1="34.96" y1="586.86" x2="36.8" y2="588.7"/>
<line x1="31" y1="587.9" x2="31" y2="590"/>
<line x1="27.04" y1="586.86" x2="25.2" y2="588.7"/>
<line x1="26" y1="582.9" x2="23.9" y2="582.9"/>
<line x1="27.04" y1="578.94" x2="25.2" y2="577.1"/>
<line x1="31" y1="577.9" x2="31" y2="575.8"/>
<line x1="34.96" y1="578.94" x2="36.8" y2="577.1"/>
</g>
<circle cx="31" cy="582.9" r="3.6" fill="#fff" stroke="#111" stroke-width="1.1"/>
<circle cx="31" cy="582.9" r="2" fill="#f00"/>

<g fill="none" stroke="#1777cc" stroke-width="1" shape-rendering="crispEdges">
<rect x="968.5" y="4.5" width="13" height="13"/>
<rect x="984.5" y="4.5" width="13" height="13"/>
<rect x="1000.5" y="4.5" width="13" height="13"/>
<rect x="1016.5" y="4.5" width="13" height="13"/>
</g>
<g fill="#1777cc">
<rect x="974.3" y="10.3" width="1.6" height="1.6"/>
<rect x="974.3" y="6.2" width="1.6" height="2.6"/>
<rect x="974.3" y="13.4" width="1.6" height="2.6"/>
<rect x="970.2" y="10.3" width="3" height="1.6"/>
<rect x="977.2" y="10.3" width="3" height="1.6"/>
<!-- icon2 -->
<rect x="987" y="6.5" width="1" height="9"/>
<path d="M987.5 5.8 l1.6 1.8 h-3.2z M987.5 16.2 l1.6 -1.8 h-3.2z"/>
<rect x="986" y="14" width="10" height="1"/>
<path d="M996.4 14.5 l-1.8 1.6 v-3.2z M985.8 14.5 l1.8 1.6 v-3.2z"/>
<rect x="990.4" y="7" width="1" height="5.5"/>
<path d="M991.6 9.75 l2.6 -2.6 v5.2z"/>
<!-- icon3 -->
<rect x="1003" y="6.5" width="1" height="9"/>
<path d="M1003.5 5.8 l1.6 1.8 h-3.2z M1003.5 16.2 l1.6 -1.8 h-3.2z"/>
<rect x="1002" y="14" width="10" height="1"/>
<path d="M1012.4 14.5 l-1.8 1.6 v-3.2z M1001.8 14.5 l1.8 1.6 v-3.2z"/>
<rect x="1005.3" y="7" width="1" height="6"/>
<path d="M1006.5 7 l4.6 3 l-4.6 3z"/>
<!-- icon4 -->
<path d="M1021.5 10 h3 v-2.2 l3.4 3.2 l-3.4 3.2 v-2.2 h-3z"/>
</g>
<rect x="1018.5" y="6.5" width="3" height="9" fill="none" stroke="#1777cc" stroke-width="1" shape-rendering="crispEdges"/>
<!-- circle plus -->
<g fill="none" stroke="#ff8000" stroke-width="1">
<circle cx="206.6" cy="14.2" r="4.2"/>
<line x1="202.4" y1="14.2" x2="210.8" y2="14.2"/><line x1="206.6" y1="10" x2="206.6" y2="18.4"/>
</g>
<!-- chart icon -->
<rect x="220.5" y="5.5" width="11" height="12" fill="#9a9a9a" stroke="none"/>
<rect x="219.7" y="4.7" width="10.6" height="11.4" fill="#fff" stroke="#1a1a9c" stroke-width="1.4"/>
<polyline points="220.5,10.5 223,7.5 225,9.5 227.5,7.8 229.8,8.3" fill="none" stroke="#f00" stroke-width="1.1"/>
<polyline points="220.5,13.5 223,10.3 225.5,12.5 228,10 229.8,10.8" fill="none" stroke="#12f" stroke-width="1.1"/>

<rect x="0" y="0" width="1101" height="2" fill="#e8e9f2"/><rect x="0" y="2" width="1101" height="1" fill="#cfd0d9"/><rect x="72" y="0" width="1" height="3" fill="#fff"/><rect x="73" y="0" width="1" height="3" fill="#c4c5ce"/><rect x="143" y="0" width="1" height="3" fill="#fff"/><rect x="144" y="0" width="1" height="3" fill="#c4c5ce"/><rect x="210" y="0" width="1" height="3" fill="#fff"/><rect x="211" y="0" width="1" height="3" fill="#c4c5ce"/><rect x="257" y="0" width="1" height="3" fill="#fff"/><rect x="258" y="0" width="1" height="3" fill="#c4c5ce"/><rect x="305" y="0" width="1" height="3" fill="#fff"/><rect x="306" y="0" width="1" height="3" fill="#c4c5ce"/><rect x="351" y="0" width="1" height="3" fill="#fff"/><rect x="352" y="0" width="1" height="3" fill="#c4c5ce"/><rect x="398" y="0" width="1" height="3" fill="#fff"/><rect x="399" y="0" width="1" height="3" fill="#c4c5ce"/><rect x="426" y="0" width="1" height="3" fill="#fff"/><rect x="427" y="0" width="1" height="3" fill="#c4c5ce"/><rect x="454" y="0" width="1" height="3" fill="#fff"/><rect x="455" y="0" width="1" height="3" fill="#c4c5ce"/><rect x="482" y="0" width="1" height="3" fill="#fff"/><rect x="483" y="0" width="1" height="3" fill="#c4c5ce"/><rect x="510" y="0" width="1" height="3" fill="#fff"/><rect x="511" y="0" width="1" height="3" fill="#c4c5ce"/><rect x="538" y="0" width="1" height="3" fill="#fff"/><rect x="539" y="0" width="1" height="3" fill="#c4c5ce"/><rect x="566" y="0" width="1" height="3" fill="#fff"/><rect x="567" y="0" width="1" height="3" fill="#c4c5ce"/><rect x="594" y="0" width="1" height="3" fill="#fff"/><rect x="595" y="0" width="1" height="3" fill="#c4c5ce"/><rect x="622" y="0" width="1" height="3" fill="#fff"/><rect x="623" y="0" width="1" height="3" fill="#c4c5ce"/><rect x="650" y="0" width="1" height="3" fill="#fff"/><rect x="651" y="0" width="1" height="3" fill="#c4c5ce"/><rect x="678" y="0" width="1" height="3" fill="#fff"/><rect x="679" y="0" width="1" height="3" fill="#c4c5ce"/><rect x="749" y="0" width="1" height="3" fill="#fff"/><rect x="750" y="0" width="1" height="3" fill="#c4c5ce"/><rect x="777" y="0" width="1" height="3" fill="#fff"/><rect x="778" y="0" width="1" height="3" fill="#c4c5ce"/><rect x="824" y="0" width="1" height="3" fill="#fff"/><rect x="825" y="0" width="1" height="3" fill="#c4c5ce"/><rect x="871" y="0" width="1" height="3" fill="#fff"/><rect x="872" y="0" width="1" height="3" fill="#c4c5ce"/><rect x="918" y="0" width="1" height="3" fill="#fff"/><rect x="919" y="0" width="1" height="3" fill="#c4c5ce"/><rect x="946" y="0" width="1" height="3" fill="#fff"/><rect x="947" y="0" width="1" height="3" fill="#c4c5ce"/><rect x="974" y="0" width="1" height="3" fill="#fff"/><rect x="975" y="0" width="1" height="3" fill="#c4c5ce"/><rect x="1050" y="0" width="1" height="3" fill="#fff"/><rect x="1051" y="0" width="1" height="3" fill="#c4c5ce"/>
<rect x="22" y="719" width="39" height="2" fill="#ff6a00"/><rect x="160" y="719" width="27" height="2" fill="#ff6a00"/><rect x="101" y="720" width="1" height="1" fill="#ccd3dc"/><rect x="227" y="720" width="1" height="1" fill="#ccd3dc"/><rect x="267" y="720" width="1" height="1" fill="#ccd3dc"/><rect x="302" y="720" width="1" height="1" fill="#ccd3dc"/><rect x="348" y="720" width="1" height="1" fill="#ccd3dc"/><rect x="375" y="720" width="1" height="1" fill="#ccd3dc"/><rect x="448" y="720" width="1" height="1" fill="#ccd3dc"/><rect x="475" y="720" width="1" height="1" fill="#ccd3dc"/><rect x="509" y="720" width="1" height="1" fill="#ccd3dc"/><rect x="537" y="720" width="1" height="1" fill="#ccd3dc"/><rect x="571" y="720" width="1" height="1" fill="#ccd3dc"/><rect x="611" y="720" width="1" height="1" fill="#ccd3dc"/><rect x="645" y="720" width="1" height="1" fill="#ccd3dc"/><rect x="685" y="720" width="1" height="1" fill="#ccd3dc"/><rect x="822" y="720" width="1" height="1" fill="#ccd3dc"/><rect x="934" y="720" width="1" height="1" fill="#ccd3dc"/><rect x="720" y="716" width="273" height="1" fill="#e6ebf1"/>
</svg>
<div class="side">
  <div class="edge"></div>
  <div class="rail"></div>
  <div class="tabs">
    <div class="on"></div>
    <div class="sep" style="top:149px"></div>
    <div class="ch" style="top:4.9px">分</div>
    <div class="ch" style="top:20.7px">时</div>
    <div class="ch" style="top:35.4px">图</div>
    <div class="ch w" style="top:54px;font-weight:400">K</div>
    <div class="ch w" style="top:69px">线</div>
    <div class="ch w" style="top:83.2px">图</div>
    <div class="ch" style="top:102.7px">闪</div>
    <div class="ch" style="top:117.7px">电</div>
    <div class="ch" style="top:131.7px">图</div>
    <div class="ch" style="top:155.7px">合</div>
    <div class="ch" style="top:170.7px">约</div>
    <div class="ch" style="top:183.7px">资</div>
    <div class="ch" style="top:197.7px">料</div>
  </div>
</div>
<div class="hd" style="left:94.5px;top:5.3px;color:#111;font-size:12px;">美原油连续</div>
<div class="hd" style="left:152.2px;top:6px;color:#ff7a1a;font-size:12px;letter-spacing:0.8px;">【日线】</div>
<div class="period"><b>日线</b><i>▲</i></div>
</body>
</html>
